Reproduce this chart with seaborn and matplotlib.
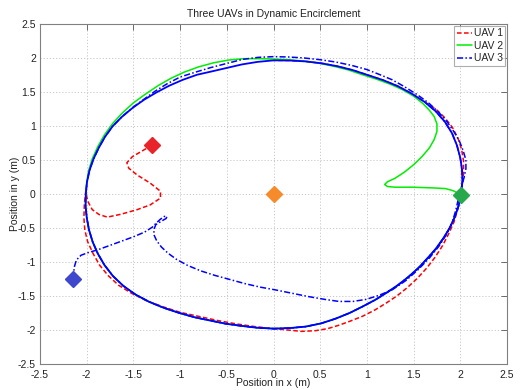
import matplotlib
matplotlib.use("Agg")
import matplotlib.pyplot as plt
import seaborn as sns
import pandas as pd

# ---------------- data ----------------
# encirclement orbit (solid blue, not in legend), counter-clockwise every ~5 degrees from +x axis
orbit_x = [2.010, 2.022, 2.019, 1.999, 1.964, 1.912, 1.836, 1.737, 1.616, 1.478, 1.331, 1.173,
           1.010, 0.849, 0.684, 0.515, 0.344, 0.172, 0.000, -0.170, -0.336, -0.497, -0.657, -0.818,
           -0.970, -1.116, -1.253, -1.386, -1.509, -1.622, -1.723, -1.804, -1.870, -1.927, -1.970, -1.997,
           -2.010, -2.012, -1.999, -1.975, -1.936, -1.881, -1.810, -1.720, -1.609, -1.478, -1.331, -1.173,
           -1.010, -0.845, -0.677, -0.511, -0.342, -0.172, 0.000, 0.173, 0.344, 0.510, 0.667, 0.816,
           0.955, 1.090, 1.215, 1.336, 1.448, 1.552, 1.645, 1.736, 1.814, 1.884, 1.940, 1.982, 2.010]
orbit_y = [0.000, 0.177, 0.356, 0.536, 0.715, 0.892, 1.060, 1.216, 1.356, 1.478, 1.586, 1.675,
           1.749, 1.822, 1.879, 1.922, 1.950, 1.963, 1.965, 1.943, 1.906, 1.855, 1.804, 1.754,
           1.680, 1.593, 1.494, 1.386, 1.266, 1.136, 0.995, 0.841, 0.681, 0.516, 0.347, 0.175,
           0.000, -0.176, -0.353, -0.529, -0.705, -0.877, -1.045, -1.205, -1.350, -1.478, -1.586, -1.675,
           -1.749, -1.813, -1.861, -1.908, -1.940, -1.967, -1.980, -1.972, -1.950, -1.903, -1.832, -1.749,
           -1.654, -1.556, -1.448, -1.336, -1.215, -1.087, -0.950, -0.809, -0.660, -0.505, -0.342, -0.173, 0.000]

# UAV 1 (red dashed): own path, then it joins the orbit (orbit points 8..18)
uav1_x = [-1.30, -1.41, -1.51, -1.57, -1.55, -1.46, -1.32, -1.21, -1.21, -1.32, -1.46, -1.64,
          -1.78, -1.87, -1.94, -1.98, -2.00, -2.01, -2.025, -2.03, -2.02, -1.99, -1.93, -1.86,
          -1.77, -1.66, -1.52, -1.36, -1.18, -1.00, -0.80, -0.60, -0.40, -0.20, 0.00, 0.15,
          0.30, 0.45, 0.58, 0.70, 0.82, 0.95, 1.08, 1.20, 1.32, 1.43, 1.54, 1.64,
          1.73, 1.81, 1.87, 1.93, 1.97, 2.00, 2.02, 2.035, 2.035, 2.015, 1.975, 1.915,
          1.835, 1.745]
uav1_y = [0.72, 0.63, 0.55, 0.46, 0.38, 0.28, 0.16, 0.04, -0.06, -0.16, -0.23, -0.30,
          -0.34, -0.30, -0.23, -0.13, -0.04, 0.04, -0.15, -0.35, -0.53, -0.70, -0.88, -1.05,
          -1.20, -1.34, -1.46, -1.57, -1.66, -1.74, -1.80, -1.86, -1.91, -1.95, -1.98, -2.00,
          -2.02, -2.01, -1.98, -1.93, -1.87, -1.80, -1.71, -1.61, -1.50, -1.38, -1.24, -1.09,
          -0.93, -0.76, -0.60, -0.42, -0.24, -0.06, 0.12, 0.30, 0.48, 0.65, 0.82, 0.98,
          1.12, 1.24]
uav1_orbit = (8, 19)

# UAV 2 (green solid): own path, then the orbit from its left-most point (points 36..72)
uav2_x = [2.01, 1.92, 1.84, 1.70, 1.48, 1.30, 1.22, 1.19, 1.22, 1.30, 1.40, 1.50,
          1.59, 1.67, 1.72, 1.75, 1.75, 1.72, 1.67, 1.60, 1.50, 1.38, 1.25, 1.10,
          0.95, 0.80, 0.64, 0.48, 0.32, 0.16, 0.00, -0.16, -0.32, -0.48, -0.64, -0.80,
          -0.96, -1.10, -1.24, -1.38, -1.50, -1.62, -1.72, -1.81, -1.88, -1.94, -1.98, -2.00]
uav2_y = [-0.01, 0.05, 0.08, 0.09, 0.10, 0.10, 0.11, 0.14, 0.18, 0.23, 0.32, 0.43,
          0.55, 0.68, 0.80, 0.92, 1.03, 1.14, 1.23, 1.33, 1.44, 1.535, 1.615, 1.69,
          1.755, 1.825, 1.88, 1.925, 1.955, 1.975, 1.985, 1.99, 1.99, 1.97, 1.93, 1.87,
          1.79, 1.70, 1.59, 1.46, 1.34, 1.19, 1.04, 0.87, 0.70, 0.52, 0.34, 0.17]
uav2_orbit = (36, 73)

# UAV 3 (blue dash-dot): own path, then orbit points 30..72 and 1..8
uav3_x = [-2.15, -2.14, -2.13, -2.11, -2.06, -1.98, -1.88, -1.76, -1.64, -1.50, -1.38, -1.30,
          -1.25, -1.21, -1.17, -1.14, -1.15, -1.20, -1.26, -1.28, -1.28, -1.25, -1.20, -1.13,
          -1.04, -0.92, -0.78, -0.62, -0.46, -0.30, -0.14, 0.02, 0.20, 0.38, 0.55, 0.70,
          0.85, 0.99, 1.13, 1.27, 1.42, 1.55, 1.67, 1.77, 1.85, 1.91, 1.95, 1.98,
          2.01, 2.04, 2.06, 2.06, 2.03, 1.99, 1.93, 1.86, 1.77, 1.66, 1.54, 1.40,
          1.27, 1.13, 1.00, 0.84, 0.67, 0.50, 0.33, 0.16, 0.00, -0.16, -0.33, -0.50,
          -0.67, -0.84, -1.00, -1.14, -1.27, -1.39, -1.50, -1.62]
uav3_y = [-1.25, -1.15, -1.06, -0.97, -0.90, -0.86, -0.82, -0.76, -0.70, -0.63, -0.56, -0.49,
          -0.42, -0.37, -0.33, -0.33, -0.36, -0.40, -0.45, -0.52, -0.60, -0.69, -0.78, -0.87,
          -0.96, -1.05, -1.13, -1.20, -1.26, -1.32, -1.37, -1.41, -1.46, -1.51, -1.55, -1.58,
          -1.58, -1.55, -1.49, -1.41, -1.27, -1.11, -0.94, -0.77, -0.60, -0.43, -0.25, -0.07,
          0.10, 0.24, 0.37, 0.50, 0.64, 0.78, 0.92, 1.06, 1.20, 1.34, 1.46, 1.58,
          1.68, 1.76, 1.83, 1.89, 1.94, 1.975, 2.00, 2.015, 2.02, 2.01, 1.98, 1.92,
          1.86, 1.79, 1.72, 1.62, 1.51, 1.39, 1.28, 1.14]
uav3_orbit = [(30, 73), (1, 9)]

# diamonds: three UAV start positions and the target
marker_x = [-1.30, 2.01, -2.15, 0.00]
marker_y = [0.72, -0.02, -1.25, 0.00]
marker_colors = ["#e8242a", "#27a84a", "#3f48cc", "#f68b2c"]

series_labels = ["UAV 1", "UAV 2", "UAV 3"]
ticks = [-2.5, -2, -1.5, -1, -0.5, 0, 0.5, 1, 1.5, 2, 2.5]
tick_labels = ["-2.5", "-2", "-1.5", "-1", "-0.5", "0", "0.5", "1", "1.5", "2", "2.5"]
title = "Three UAVs in Dynamic Encirclement"
xlabel = "Position in x (m)"
ylabel = "Position in y (m)"


def full_path(px, py, spans):
    xs, ys = list(px), list(py)
    for a, b in spans:
        xs += orbit_x[a:b]
        ys += orbit_y[a:b]
    return pd.DataFrame({"x": xs, "y": ys})


df1 = full_path(uav1_x, uav1_y, [uav1_orbit])
df2 = full_path(uav2_x, uav2_y, [uav2_orbit])
df3 = full_path(uav3_x, uav3_y, uav3_orbit)
dfo = pd.DataFrame({"x": orbit_x, "y": orbit_y})

# ---------------- plotting ----------------
sns.set_style("white")
plt.rcParams["font.family"] = ["Liberation Sans", "DejaVu Sans"]

fig = plt.figure(figsize=(5.26, 3.9), dpi=100)
ax = fig.add_axes([40 / 526, 26 / 390, 467 / 526, 340 / 390])

sns.lineplot(data=df1, x="x", y="y", sort=False, estimator=None, ax=ax,
             color="#ff0000", linestyle=(0, (3.0, 1.6)), linewidth=1.1, label=series_labels[0])
sns.lineplot(data=df2, x="x", y="y", sort=False, estimator=None, ax=ax,
             color="#00ee00", linestyle="-", linewidth=1.1, label=series_labels[1])
sns.lineplot(data=dfo, x="x", y="y", sort=False, estimator=None, ax=ax,
             color="#0000ff", linestyle="-", linewidth=1.3, label="_nolegend_")
sns.lineplot(data=df3, x="x", y="y", sort=False, estimator=None, ax=ax,
             color="#0000ff", linestyle=(0, (4.0, 1.5, 1.0, 1.5)), linewidth=1.1,
             label=series_labels[2])

for mx, my, mc in zip(marker_x, marker_y, marker_colors):
    ax.plot([mx], [my], marker="D", markersize=8, color=mc, markeredgecolor=mc,
            linestyle="none", zorder=5)

ax.set_xlim(ticks[0], ticks[-1])
ax.set_ylim(ticks[0], ticks[-1])
ax.set_xticks(ticks)
ax.set_xticklabels(tick_labels)
ax.set_yticks(ticks)
ax.set_yticklabels(tick_labels)
ax.tick_params(direction="in", length=4, width=0.6, color="#555555",
               labelsize=7.5, labelcolor="#222222", top=True, right=True)
ax.tick_params(axis="x", pad=4)
ax.tick_params(axis="y", pad=3)
ax.grid(True, linestyle=(0, (1.2, 2.0)), color="#c8c8c8", linewidth=0.7)
for s in ax.spines.values():
    s.set_color("#808080")
    s.set_linewidth(0.8)

ax.set_title(title, fontsize=7.5, color="#222222", pad=5)
ax.set_xlabel(xlabel, fontsize=7.5, color="#222222", labelpad=-1)
ax.set_ylabel(ylabel, fontsize=7.5, color="#222222", labelpad=-1.5)

leg = ax.legend(loc="upper right", fontsize=7.5, frameon=True, fancybox=False,
                borderaxespad=0.15, handlelength=1.4, handletextpad=0.2,
                borderpad=0.25, labelspacing=0.25)
leg.get_frame().set_edgecolor("#999999")
leg.get_frame().set_linewidth(0.8)

fig.savefig("out.png", dpi=100)
